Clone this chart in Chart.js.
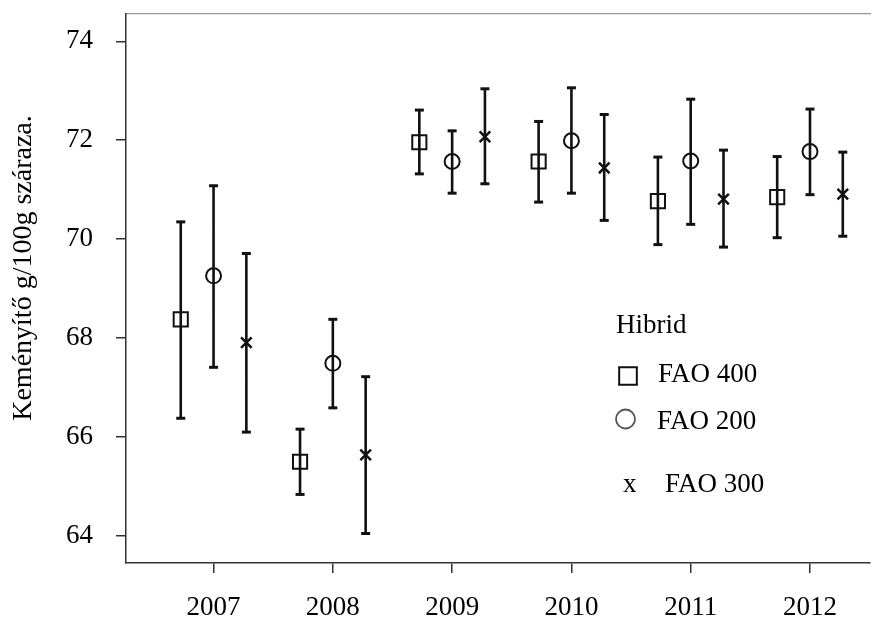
<!DOCTYPE html>
<html>
<head>
<meta charset="utf-8">
<script src="https://cdn.jsdelivr.net/npm/chart.js@4"></script>
<style>
html, body { margin:0; padding:0; background:#fff; }
#wrap { width:885px; height:618px; }
</style>
</head>
<body>
<div id="wrap"><canvas id="grafico" width="885" height="618"></canvas></div>
<script>

/* ======================
DATOS
====================== */

const years = [2007, 2008, 2009, 2010, 2011, 2012]
const yTicks = [64, 66, 68, 70, 72, 74]
const yTitulo = "Keményítő g/100g száraza."

const fao400 = [68.38, 65.50, 71.96, 71.57, 70.77, 70.85]
const fao400Lo = [66.38, 64.84, 71.32, 70.75, 69.89, 70.03]
const fao400Hi = [70.35, 66.16, 72.61, 72.38, 71.66, 71.67]

const fao200 = [69.26, 67.49, 71.57, 71.99, 71.58, 71.77]
const fao200Lo = [67.41, 66.59, 70.93, 70.93, 70.30, 70.90]
const fao200Hi = [71.08, 68.38, 72.19, 73.06, 72.83, 72.63]

const fao300 = [67.91, 65.64, 72.07, 71.44, 70.81, 70.91]
const fao300Lo = [66.10, 64.05, 71.12, 70.38, 69.84, 70.06]
const fao300Hi = [69.71, 67.22, 73.04, 72.52, 71.80, 71.76]

const fuente = "'Liberation Serif', 'Times New Roman', serif"
const negro = "#111"

/* ======================
HELPERS
====================== */

function puntos(valores, off){
return years.map((yr, i) => ({x: yr + off, y: valores[i]}))
}

function bigotes(lo, hi, off){
let out = []
years.forEach(function(yr, i){
out.push({x: yr + off, y: lo[i]})
out.push({x: yr + off, y: hi[i]})
out.push({x: yr + off, y: null})
})
return out
}

function tapas(lo, hi, off){
return puntos(lo, off).concat(puntos(hi, off))
}

const series = [
{nombre:"FAO 400", v:fao400, lo:fao400Lo, hi:fao400Hi, off:-0.275, estilo:"rect", r:10, bw:2},
{nombre:"FAO 200", v:fao200, lo:fao200Lo, hi:fao200Hi, off:0, estilo:"circle", r:7.5, bw:2},
{nombre:"FAO 300", v:fao300, lo:fao300Lo, hi:fao300Hi, off:0.275, estilo:"crossRot", r:7.5, bw:2.5}
]

let datasets = []

series.forEach(function(s){
datasets.push({
label:s.nombre,
data:puntos(s.v, s.off),
pointStyle:s.estilo,
pointRadius:s.r,
pointBorderWidth:s.bw,
pointBorderColor:negro,
pointBackgroundColor:"rgba(0,0,0,0)",
showLine:false,
order:0
})
})

series.forEach(function(s){
datasets.push({
label:s.nombre + " tapas",
data:tapas(s.lo, s.hi, s.off),
pointStyle:"line",
pointRadius:4.5,
pointBorderWidth:3,
pointBorderColor:negro,
showLine:false,
order:1
})
datasets.push({
label:s.nombre + " bigotes",
data:bigotes(s.lo, s.hi, s.off),
showLine:true,
spanGaps:false,
borderColor:negro,
borderWidth:2.6,
pointRadius:0,
order:2
})
})

/* ======================
LEYENDA (Hibrid) + TITULO Y
====================== */

const leyenda = {
id:"leyendaHibrid",
afterDraw(chart){
const ctx = chart.ctx
ctx.save()

// titulo del eje y
ctx.fillStyle = "#000"
ctx.font = "28px " + fuente
ctx.textAlign = "center"
ctx.textBaseline = "middle"
ctx.translate(24, 268)
ctx.rotate(-Math.PI / 2)
ctx.fillText(yTitulo, 0, 0)
ctx.setTransform(1, 0, 0, 1, 0, 0)

ctx.font = "27px " + fuente
ctx.textAlign = "left"
ctx.textBaseline = "alphabetic"
ctx.fillText("Hibrid", 616, 333)
ctx.fillText(series[0].nombre, 658, 382)
ctx.fillText(series[1].nombre, 657, 429)
ctx.fillText("x", 623, 492)
ctx.fillText(series[2].nombre, 665, 492)

ctx.fillStyle = "rgba(0,0,0,0)"
ctx.strokeStyle = negro
ctx.lineWidth = 2
Chart.helpers.drawPoint(ctx, {pointStyle:"rect", radius:12.5, borderWidth:2}, 628, 376)

ctx.strokeStyle = "#555"
ctx.lineWidth = 1.8
Chart.helpers.drawPoint(ctx, {pointStyle:"circle", radius:9.5, borderWidth:1.8}, 625.5, 419)

ctx.restore()
}
}

/* ======================
GRAFICO
====================== */

new Chart(document.getElementById("grafico"), {
type:"scatter",
data:{datasets:datasets},
plugins:[leyenda],
options:{
responsive:false,
animation:false,
events:[],
layout:{padding:{top:13, right:15, left:0, bottom:0}},
plugins:{
legend:{display:false},
tooltip:{enabled:false}
},
scales:{
x:{
type:"linear",
position:"bottom",
min:2006.266,
max:2012.503,
afterBuildTicks(scale){ scale.ticks = years.map(v => ({value:v})) },
afterFit(scale){
scale.height = 55
scale.paddingLeft = 0
scale.paddingRight = 0
},
grid:{display:true, drawOnChartArea:false, drawTicks:true, tickLength:10, color:"#333", lineWidth:1.5},
border:{display:true, color:"#333", width:1.5},
ticks:{
color:"#000",
padding:19,
maxRotation:0,
autoSkip:false,
font:{family:fuente, size:27},
callback:(v) => String(v)
}
},
xTop:{
type:"linear",
position:"top",
min:2006.266,
max:2012.503,
afterFit(scale){
scale.height = 1
scale.paddingLeft = 0
scale.paddingRight = 0
},
grid:{display:false},
border:{display:true, color:"#999", width:1.2},
ticks:{display:false}
},
y:{
type:"linear",
min:63.454,
max:74.552,
afterBuildTicks(scale){ scale.ticks = yTicks.map(v => ({value:v})) },
afterFit(scale){
scale.width = 126
scale.paddingTop = 0
scale.paddingBottom = 0
},
grid:{display:true, drawOnChartArea:false, drawTicks:true, tickLength:10, color:"#333", lineWidth:1.5},
border:{display:true, color:"#333", width:1.5},
ticks:{
color:"#000",
padding:23,
font:{family:fuente, size:27},
callback:(v) => String(v)
}
}
}
}
})

</script>
</body>
</html>
